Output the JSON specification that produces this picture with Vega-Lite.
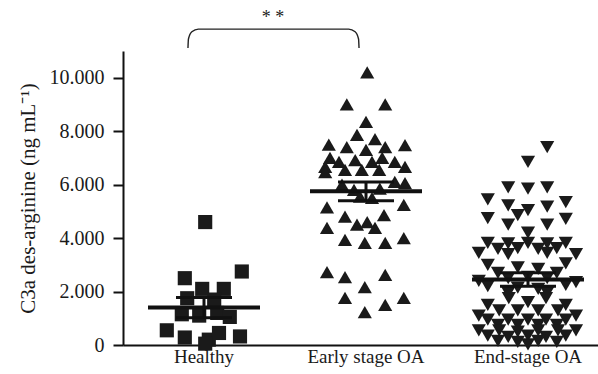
{
  "$schema": "https://vega.github.io/schema/vega-lite/v6.json",
  "width": 475,
  "height": 294,
  "autosize": {"type": "none"},
  "padding": {"left": 123, "top": 51, "right": 0, "bottom": 29},
  "background": "white",
  "config": {"view": {"stroke": null}, "font": "Liberation Serif"},
  "datasets": {
    "points": [
      {"group": "Healthy", "jitter": 0.02, "value": 4600},
      {"group": "Healthy", "jitter": 0.63, "value": 2750},
      {"group": "Healthy", "jitter": -0.32, "value": 2500},
      {"group": "Healthy", "jitter": -0.03, "value": 2100},
      {"group": "Healthy", "jitter": 0.33, "value": 2100},
      {"group": "Healthy", "jitter": -0.28, "value": 1750},
      {"group": "Healthy", "jitter": 0.17, "value": 1700},
      {"group": "Healthy", "jitter": -0.37, "value": 1150},
      {"group": "Healthy", "jitter": -0.08, "value": 1100},
      {"group": "Healthy", "jitter": 0.22, "value": 1200},
      {"group": "Healthy", "jitter": 0.43, "value": 1050},
      {"group": "Healthy", "jitter": -0.62, "value": 550},
      {"group": "Healthy", "jitter": -0.32, "value": 280},
      {"group": "Healthy", "jitter": 0.08, "value": 200},
      {"group": "Healthy", "jitter": 0.25, "value": 450},
      {"group": "Healthy", "jitter": 0.6, "value": 320},
      {"group": "Healthy", "jitter": 0.02, "value": 50},
      {"group": "Early stage OA", "jitter": 0.02, "value": 10200},
      {"group": "Early stage OA", "jitter": -0.32, "value": 9000},
      {"group": "Early stage OA", "jitter": 0.32, "value": 9000},
      {"group": "Early stage OA", "jitter": 0, "value": 8350},
      {"group": "Early stage OA", "jitter": -0.15, "value": 7860},
      {"group": "Early stage OA", "jitter": -0.62, "value": 7500},
      {"group": "Early stage OA", "jitter": -0.32, "value": 7400},
      {"group": "Early stage OA", "jitter": 0.15, "value": 7700},
      {"group": "Early stage OA", "jitter": 0.32, "value": 7400},
      {"group": "Early stage OA", "jitter": 0.65, "value": 7480},
      {"group": "Early stage OA", "jitter": 0, "value": 7300},
      {"group": "Early stage OA", "jitter": -0.6, "value": 7000},
      {"group": "Early stage OA", "jitter": -0.45, "value": 6850},
      {"group": "Early stage OA", "jitter": -0.18, "value": 6920},
      {"group": "Early stage OA", "jitter": 0.1, "value": 6850},
      {"group": "Early stage OA", "jitter": 0.27, "value": 7000},
      {"group": "Early stage OA", "jitter": 0.48, "value": 6850},
      {"group": "Early stage OA", "jitter": -0.68, "value": 6660},
      {"group": "Early stage OA", "jitter": 0.65, "value": 6660},
      {"group": "Early stage OA", "jitter": -0.68, "value": 6470},
      {"group": "Early stage OA", "jitter": -0.35, "value": 6550},
      {"group": "Early stage OA", "jitter": -0.07, "value": 6550},
      {"group": "Early stage OA", "jitter": 0.22, "value": 6550},
      {"group": "Early stage OA", "jitter": 0.48, "value": 6100},
      {"group": "Early stage OA", "jitter": 0.65, "value": 6060},
      {"group": "Early stage OA", "jitter": -0.4, "value": 6000},
      {"group": "Early stage OA", "jitter": -0.2, "value": 5800},
      {"group": "Early stage OA", "jitter": 0.23, "value": 5850},
      {"group": "Early stage OA", "jitter": -0.1, "value": 5550},
      {"group": "Early stage OA", "jitter": 0.1, "value": 5500},
      {"group": "Early stage OA", "jitter": -0.65, "value": 5150},
      {"group": "Early stage OA", "jitter": 0.63, "value": 5240},
      {"group": "Early stage OA", "jitter": -0.35, "value": 4800},
      {"group": "Early stage OA", "jitter": 0.3, "value": 4860},
      {"group": "Early stage OA", "jitter": -0.15, "value": 4500},
      {"group": "Early stage OA", "jitter": 0.02, "value": 4600},
      {"group": "Early stage OA", "jitter": 0.15, "value": 4380},
      {"group": "Early stage OA", "jitter": -0.65, "value": 4380},
      {"group": "Early stage OA", "jitter": -0.35, "value": 3930},
      {"group": "Early stage OA", "jitter": -0.02, "value": 3820},
      {"group": "Early stage OA", "jitter": 0.32, "value": 3820},
      {"group": "Early stage OA", "jitter": 0.63, "value": 4000},
      {"group": "Early stage OA", "jitter": -0.65, "value": 2730},
      {"group": "Early stage OA", "jitter": -0.35, "value": 2540},
      {"group": "Early stage OA", "jitter": 0.32, "value": 2620},
      {"group": "Early stage OA", "jitter": -0.02, "value": 2170},
      {"group": "Early stage OA", "jitter": -0.35, "value": 1760},
      {"group": "Early stage OA", "jitter": 0.32, "value": 1500},
      {"group": "Early stage OA", "jitter": 0.63, "value": 1760},
      {"group": "Early stage OA", "jitter": -0.02, "value": 1230},
      {"group": "End-stage OA", "jitter": 0.32, "value": 7400},
      {"group": "End-stage OA", "jitter": 0, "value": 6850},
      {"group": "End-stage OA", "jitter": -0.33, "value": 5900},
      {"group": "End-stage OA", "jitter": 0, "value": 5850},
      {"group": "End-stage OA", "jitter": 0.32, "value": 5900},
      {"group": "End-stage OA", "jitter": -0.67, "value": 5450},
      {"group": "End-stage OA", "jitter": 0.63, "value": 5350},
      {"group": "End-stage OA", "jitter": -0.33, "value": 5220},
      {"group": "End-stage OA", "jitter": 0.32, "value": 5180},
      {"group": "End-stage OA", "jitter": 0, "value": 5050},
      {"group": "End-stage OA", "jitter": -0.17, "value": 4860},
      {"group": "End-stage OA", "jitter": -0.67, "value": 4750},
      {"group": "End-stage OA", "jitter": 0.63, "value": 4720},
      {"group": "End-stage OA", "jitter": -0.33, "value": 4500},
      {"group": "End-stage OA", "jitter": 0.32, "value": 4500},
      {"group": "End-stage OA", "jitter": 0, "value": 4200},
      {"group": "End-stage OA", "jitter": -0.67, "value": 3820},
      {"group": "End-stage OA", "jitter": -0.33, "value": 3800},
      {"group": "End-stage OA", "jitter": 0, "value": 3820},
      {"group": "End-stage OA", "jitter": 0.32, "value": 3800},
      {"group": "End-stage OA", "jitter": 0.63, "value": 3820},
      {"group": "End-stage OA", "jitter": -0.5, "value": 3600},
      {"group": "End-stage OA", "jitter": -0.17, "value": 3620},
      {"group": "End-stage OA", "jitter": 0.17, "value": 3600},
      {"group": "End-stage OA", "jitter": 0.48, "value": 3620},
      {"group": "End-stage OA", "jitter": -0.82, "value": 3450},
      {"group": "End-stage OA", "jitter": -0.33, "value": 3400},
      {"group": "End-stage OA", "jitter": 0.32, "value": 3450},
      {"group": "End-stage OA", "jitter": 0.8, "value": 3400},
      {"group": "End-stage OA", "jitter": -0.67, "value": 3000},
      {"group": "End-stage OA", "jitter": 0.63, "value": 3050},
      {"group": "End-stage OA", "jitter": -0.17, "value": 2900},
      {"group": "End-stage OA", "jitter": 0.17, "value": 2850},
      {"group": "End-stage OA", "jitter": -0.5, "value": 2700},
      {"group": "End-stage OA", "jitter": 0.48, "value": 2700},
      {"group": "End-stage OA", "jitter": -0.33, "value": 2500},
      {"group": "End-stage OA", "jitter": 0, "value": 2550},
      {"group": "End-stage OA", "jitter": 0.32, "value": 2500},
      {"group": "End-stage OA", "jitter": -0.82, "value": 2400},
      {"group": "End-stage OA", "jitter": 0.8, "value": 2350},
      {"group": "End-stage OA", "jitter": -0.67, "value": 2200},
      {"group": "End-stage OA", "jitter": 0.63, "value": 2250},
      {"group": "End-stage OA", "jitter": -0.17, "value": 2150},
      {"group": "End-stage OA", "jitter": 0.17, "value": 2100},
      {"group": "End-stage OA", "jitter": -0.33, "value": 1950},
      {"group": "End-stage OA", "jitter": 0.32, "value": 1950},
      {"group": "End-stage OA", "jitter": -0.32, "value": 1750},
      {"group": "End-stage OA", "jitter": 0.3, "value": 1750},
      {"group": "End-stage OA", "jitter": 0, "value": 1600},
      {"group": "End-stage OA", "jitter": -0.67, "value": 1500},
      {"group": "End-stage OA", "jitter": 0.63, "value": 1500},
      {"group": "End-stage OA", "jitter": -0.48, "value": 1300},
      {"group": "End-stage OA", "jitter": -0.17, "value": 1300},
      {"group": "End-stage OA", "jitter": 0.17, "value": 1300},
      {"group": "End-stage OA", "jitter": 0.5, "value": 1300},
      {"group": "End-stage OA", "jitter": -0.82, "value": 1100},
      {"group": "End-stage OA", "jitter": 0.8, "value": 1100},
      {"group": "End-stage OA", "jitter": -0.67, "value": 950},
      {"group": "End-stage OA", "jitter": -0.33, "value": 950},
      {"group": "End-stage OA", "jitter": 0, "value": 950},
      {"group": "End-stage OA", "jitter": 0.3, "value": 950},
      {"group": "End-stage OA", "jitter": 0.63, "value": 950},
      {"group": "End-stage OA", "jitter": -0.5, "value": 750},
      {"group": "End-stage OA", "jitter": -0.17, "value": 750},
      {"group": "End-stage OA", "jitter": 0.17, "value": 750},
      {"group": "End-stage OA", "jitter": 0.48, "value": 750},
      {"group": "End-stage OA", "jitter": -0.82, "value": 550},
      {"group": "End-stage OA", "jitter": -0.48, "value": 550},
      {"group": "End-stage OA", "jitter": -0.17, "value": 500},
      {"group": "End-stage OA", "jitter": 0.17, "value": 550},
      {"group": "End-stage OA", "jitter": 0.5, "value": 550},
      {"group": "End-stage OA", "jitter": 0.8, "value": 550},
      {"group": "End-stage OA", "jitter": -0.67, "value": 350},
      {"group": "End-stage OA", "jitter": -0.33, "value": 300},
      {"group": "End-stage OA", "jitter": 0, "value": 350},
      {"group": "End-stage OA", "jitter": 0.3, "value": 300},
      {"group": "End-stage OA", "jitter": 0.63, "value": 350},
      {"group": "End-stage OA", "jitter": -0.5, "value": 150},
      {"group": "End-stage OA", "jitter": -0.17, "value": 120},
      {"group": "End-stage OA", "jitter": 0.17, "value": 150},
      {"group": "End-stage OA", "jitter": 0.48, "value": 120},
      {"group": "End-stage OA", "jitter": 0, "value": 20}
    ],
    "summary": [
      {"group": "Healthy", "mean": 1400, "lo": 1020, "hi": 1780},
      {"group": "Early stage OA", "mean": 5750, "lo": 5400, "hi": 6100},
      {"group": "End-stage OA", "mean": 2450, "lo": 2200, "hi": 2700}
    ],
    "bracket": [
      {"pos": 0.401, "value": 11110},
      {"pos": 0.404, "value": 11450},
      {"pos": 0.425, "value": 11720},
      {"pos": 0.465, "value": 11820},
      {"pos": 1.393, "value": 11820},
      {"pos": 1.433, "value": 11720},
      {"pos": 1.454, "value": 11450},
      {"pos": 1.457, "value": 11110}
    ],
    "label": [
      {"pos": 0.926, "value": 12230, "text": "* *"}
    ]
  },
  "layer": [
    {
      "layer": [
        {
          "data": {"name": "points"},
          "mark": {"type": "point", "filled": true, "opacity": 1, "color": "#1a1a1a", "size": 200, "strokeWidth": 0},
          "encoding": {
            "x": {
              "field": "group", "type": "nominal", "sort": null,
              "scale": {"domain": ["Healthy", "Early stage OA", "End-stage OA"], "range": [0, 486], "paddingInner": 0, "paddingOuter": 0},
              "axis": {"title": null, "labelAngle": 0, "ticks": false, "tickSize": 0, "domainWidth": 2, "domainColor": "#111", "labelFont": "Liberation Serif", "labelFontSize": 19, "labelColor": "#1a1a1a", "labelPadding": 2}
            },
            "xOffset": {"field": "jitter", "type": "quantitative", "scale": {"domain": [-1, 1], "range": [21, 141]}},
            "y": {
              "field": "value", "type": "quantitative",
              "scale": {"domain": [0, 11000], "nice": false, "zero": true},
              "axis": {
                "title": "C3a des-arginine (ng mL⁻¹)", "titleFont": "Liberation Serif", "titleFontSize": 21, "titleFontWeight": "normal", "titleColor": "#1a1a1a", "titlePadding": 11,
                "values": [0, 2000, 4000, 6000, 8000, 10000],
                "labelExpr": "replace(format(datum.value, ','), ',', '.')",
                "labelFont": "Liberation Serif", "labelFontSize": 20, "labelColor": "#1a1a1a", "labelPadding": 9,
                "tickSize": 10, "tickWidth": 2, "tickColor": "#111", "domainWidth": 2, "domainColor": "#111", "grid": false
              }
            },
            "shape": {"field": "group", "type": "nominal", "scale": {"domain": ["Healthy", "Early stage OA", "End-stage OA"], "range": ["square", "triangle-up", "triangle-down"]}, "legend": null}
          }
        },
        {
          "data": {"name": "summary"},
          "mark": {"type": "tick", "size": 112, "thickness": 4, "color": "#111", "opacity": 1},
          "encoding": {
            "x": {"field": "group", "type": "nominal"},
            "y": {"field": "mean", "type": "quantitative"}
          }
        },
        {
          "data": {"name": "summary"},
          "mark": {"type": "rule", "strokeWidth": 3, "color": "#111"},
          "encoding": {
            "x": {"field": "group", "type": "nominal"},
            "y": {"field": "lo", "type": "quantitative"},
            "y2": {"field": "hi"}
          }
        },
        {
          "data": {"name": "summary"},
          "mark": {"type": "tick", "size": 56, "thickness": 3, "color": "#111", "opacity": 1},
          "encoding": {
            "x": {"field": "group", "type": "nominal"},
            "y": {"field": "lo", "type": "quantitative"}
          }
        },
        {
          "data": {"name": "summary"},
          "mark": {"type": "tick", "size": 56, "thickness": 3, "color": "#111", "opacity": 1},
          "encoding": {
            "x": {"field": "group", "type": "nominal"},
            "y": {"field": "hi", "type": "quantitative"}
          }
        }
      ]
    },
    {
      "layer": [
        {
          "data": {"name": "bracket"},
          "mark": {"type": "line", "interpolate": "monotone", "color": "#222", "strokeWidth": 1.4, "clip": false},
          "encoding": {
            "x": {"field": "pos", "type": "quantitative", "scale": {"domain": [0, 3], "range": [0, 486], "nice": false, "zero": false}, "axis": null},
            "y": {"field": "value", "type": "quantitative"}
          }
        },
        {
          "data": {"name": "label"},
          "mark": {"type": "text", "font": "Liberation Serif", "fontSize": 18, "color": "#222", "baseline": "middle", "align": "center"},
          "encoding": {
            "x": {"field": "pos", "type": "quantitative"},
            "y": {"field": "value", "type": "quantitative"},
            "text": {"field": "text"}
          }
        }
      ]
    }
  ],
  "resolve": {"scale": {"x": "independent"}}
}
